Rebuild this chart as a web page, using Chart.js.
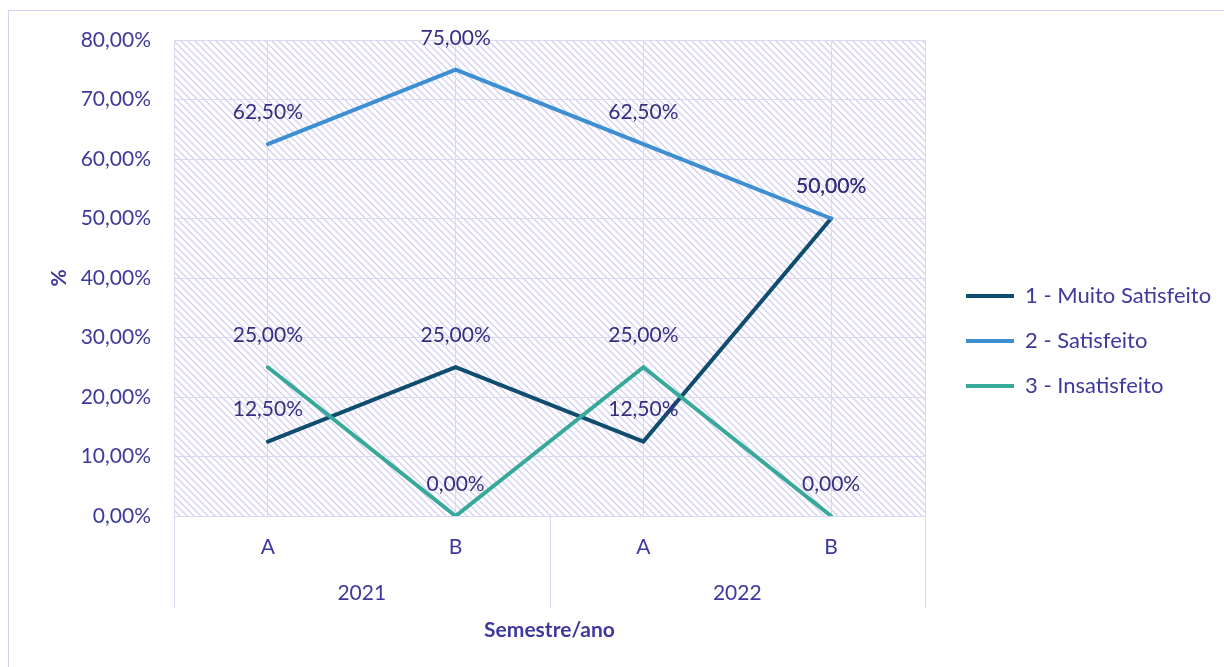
<!DOCTYPE html>
<html>
<head>
<meta charset="utf-8">
<script src="https://cdn.jsdelivr.net/npm/chart.js@4/dist/chart.umd.min.js"></script>
<style>
  html, body { margin: 0; padding: 0; background: #fff; }
  #wrap { width: 1224px; height: 667px; position: relative; }
</style>
</head>
<body>
<div id="wrap"><canvas id="chart"></canvas></div>
<script>
// categories: semester within year
const semesters = ['A', 'B', 'A', 'B'];
const years = ['2021', '2022'];

// series values (%)
const muitoSatisfeito = [12.5, 25, 12.5, 50];
const satisfeito = [62.5, 75, 62.5, 50];
const insatisfeito = [25, 0, 25, 0];

const seriesNames = ['1 - Muito Satisfeito', '2 - Satisfeito', '3 - Insatisfeito'];
const seriesColors = ['#104c6e', '#3d8fd1', '#36a99b'];

const FONT = 'Lato';
const TEXT = '#3e399d';
const LABEL_TEXT = '#352f80';
const GRID = '#dcd8f4';

const pct = v => v.toFixed(2).replace('.', ',') + '%';

// diagonal hatch used as plot background
function makeHatch() {
    const n = 7;
    const c = document.createElement('canvas');
    c.width = n; c.height = n;
    const g = c.getContext('2d');
    g.fillStyle = '#ffffff';
    g.fillRect(0, 0, n, n);
    g.strokeStyle = '#d3cff3';
    g.lineWidth = 1.3;
    g.beginPath();
    g.moveTo(-1, -1); g.lineTo(n + 1, n + 1);
    g.moveTo(-n - 1, -1); g.lineTo(1, n + 1);
    g.moveTo(n - 1, -1); g.lineTo(2 * n + 1, n + 1);
    g.stroke();
    return g.createPattern(c, 'repeat');
}

const plotBackground = {
    id: 'plotBackground',
    beforeDraw(chart) {
        const { ctx, chartArea: a } = chart;
        ctx.save();
        // outer frame (top and left visible)
        ctx.strokeStyle = '#d4d0f2';
        ctx.lineWidth = 1;
        ctx.strokeRect(8.5, 10.5, 1300, 700);
        ctx.fillStyle = makeHatch();
        ctx.fillRect(a.left, a.top, a.right - a.left, a.bottom - a.top);
        ctx.restore();
    }
};

const fixLegend = {
    id: 'fixLegend',
    beforeLayout(chart) {
        const lg = chart.legend;
        if (lg && !lg._patched) {
            const fit = lg.fit;
            lg.fit = function () { fit.call(this); this.width = 299; };
            lg._patched = true;
        }
    },
    afterLayout(chart) {
        const lg = chart.legend;
        lg.left = 943; lg.right = 1224;
        lg.top = 262; lg.bottom = 667;
    }
};

// year groups, separators, right border and point labels
const extras = {
    id: 'extras',
    afterDatasetsDraw(chart) {
        const { ctx, chartArea: a } = chart;
        const xs = chart.scales.x;
        const x0 = xs.getPixelForTick(0);
        const step = xs.getPixelForTick(1) - x0;
        ctx.save();
        ctx.strokeStyle = GRID;
        ctx.lineWidth = 1;
        ctx.beginPath();
        ctx.moveTo(Math.round(a.right) + 0.5, a.top);
        ctx.lineTo(Math.round(a.right) + 0.5, a.bottom);
        for (let k = 0; k <= years.length; k++) {
            const x = Math.round(x0 - step / 2 + k * 2 * step) + 0.5;
            ctx.moveTo(x, a.bottom);
            ctx.lineTo(x, 608);
        }
        ctx.stroke();

        ctx.fillStyle = TEXT;
        ctx.font = `21px ${FONT}`;
        ctx.textAlign = 'center';
        ctx.textBaseline = 'middle';
        years.forEach((y, k) => {
            const cx = (xs.getPixelForTick(2 * k) + xs.getPixelForTick(2 * k + 1)) / 2;
            ctx.fillText(y, cx, 593);
        });

        ctx.fillStyle = LABEL_TEXT;
        chart.data.datasets.forEach((ds, i) => {
            const meta = chart.getDatasetMeta(i);
            meta.data.forEach((pt, j) => {
                ctx.fillText(pct(ds.data[j]), pt.x, pt.y - 32);
            });
        });
        ctx.restore();
    }
};

const datasets = [muitoSatisfeito, satisfeito, insatisfeito].map((d, i) => ({
    label: seriesNames[i],
    data: d,
    borderColor: seriesColors[i],
    backgroundColor: seriesColors[i],
    borderWidth: 4,
    borderCapStyle: 'round',
    borderJoinStyle: 'miter',
    pointRadius: 0,
    pointHoverRadius: 0,
    tension: 0,
    fill: false,
    order: 3 - i
}));

new Chart(document.getElementById('chart'), {
    type: 'line',
    data: { labels: semesters, datasets },
    plugins: [plotBackground, fixLegend, extras],
    options: {
        responsive: true,
        maintainAspectRatio: false,
        animation: false,
        layout: { padding: { left: 0, right: 0, top: 40, bottom: 20 } },
        plugins: {
            tooltip: { enabled: false },
            legend: {
                position: 'right',
                align: 'start',
                labels: {
                    usePointStyle: true,
                    pointStyle: 'line',
                    pointStyleWidth: 48,
                    boxHeight: 22,
                    padding: 23,
                    color: TEXT,
                    font: { family: FONT, size: 22 },
                    sort: (a, b) => a.datasetIndex - b.datasetIndex
                }
            }
        },
        scales: {
            x: {
                offset: true,
                grid: { color: GRID, drawTicks: false, offset: false },
                border: { color: GRID },
                ticks: { color: TEXT, padding: 19, font: { family: FONT, size: 21 } },
                title: {
                    display: true,
                    text: 'Semestre/ano',
                    color: TEXT,
                    padding: { top: 4, bottom: 4 },
                    font: { family: FONT, size: 21, weight: 'bold' }
                },
                afterFit(s) { s.height = 131; }
            },
            y: {
                min: 0,
                max: 80,
                ticks: {
                    stepSize: 10,
                    color: TEXT,
                    padding: 23,
                    font: { family: FONT, size: 21 },
                    callback: v => pct(v)
                },
                grid: { color: GRID, drawTicks: false },
                border: { color: GRID },
                title: {
                    display: true,
                    text: '%',
                    color: TEXT,
                    padding: { top: 47, bottom: 0 },
                    font: { family: FONT, size: 21, weight: 'bold' }
                },
                afterFit(s) { s.width = 174; }
            }
        }
    }
});
</script>
</body>
</html>
